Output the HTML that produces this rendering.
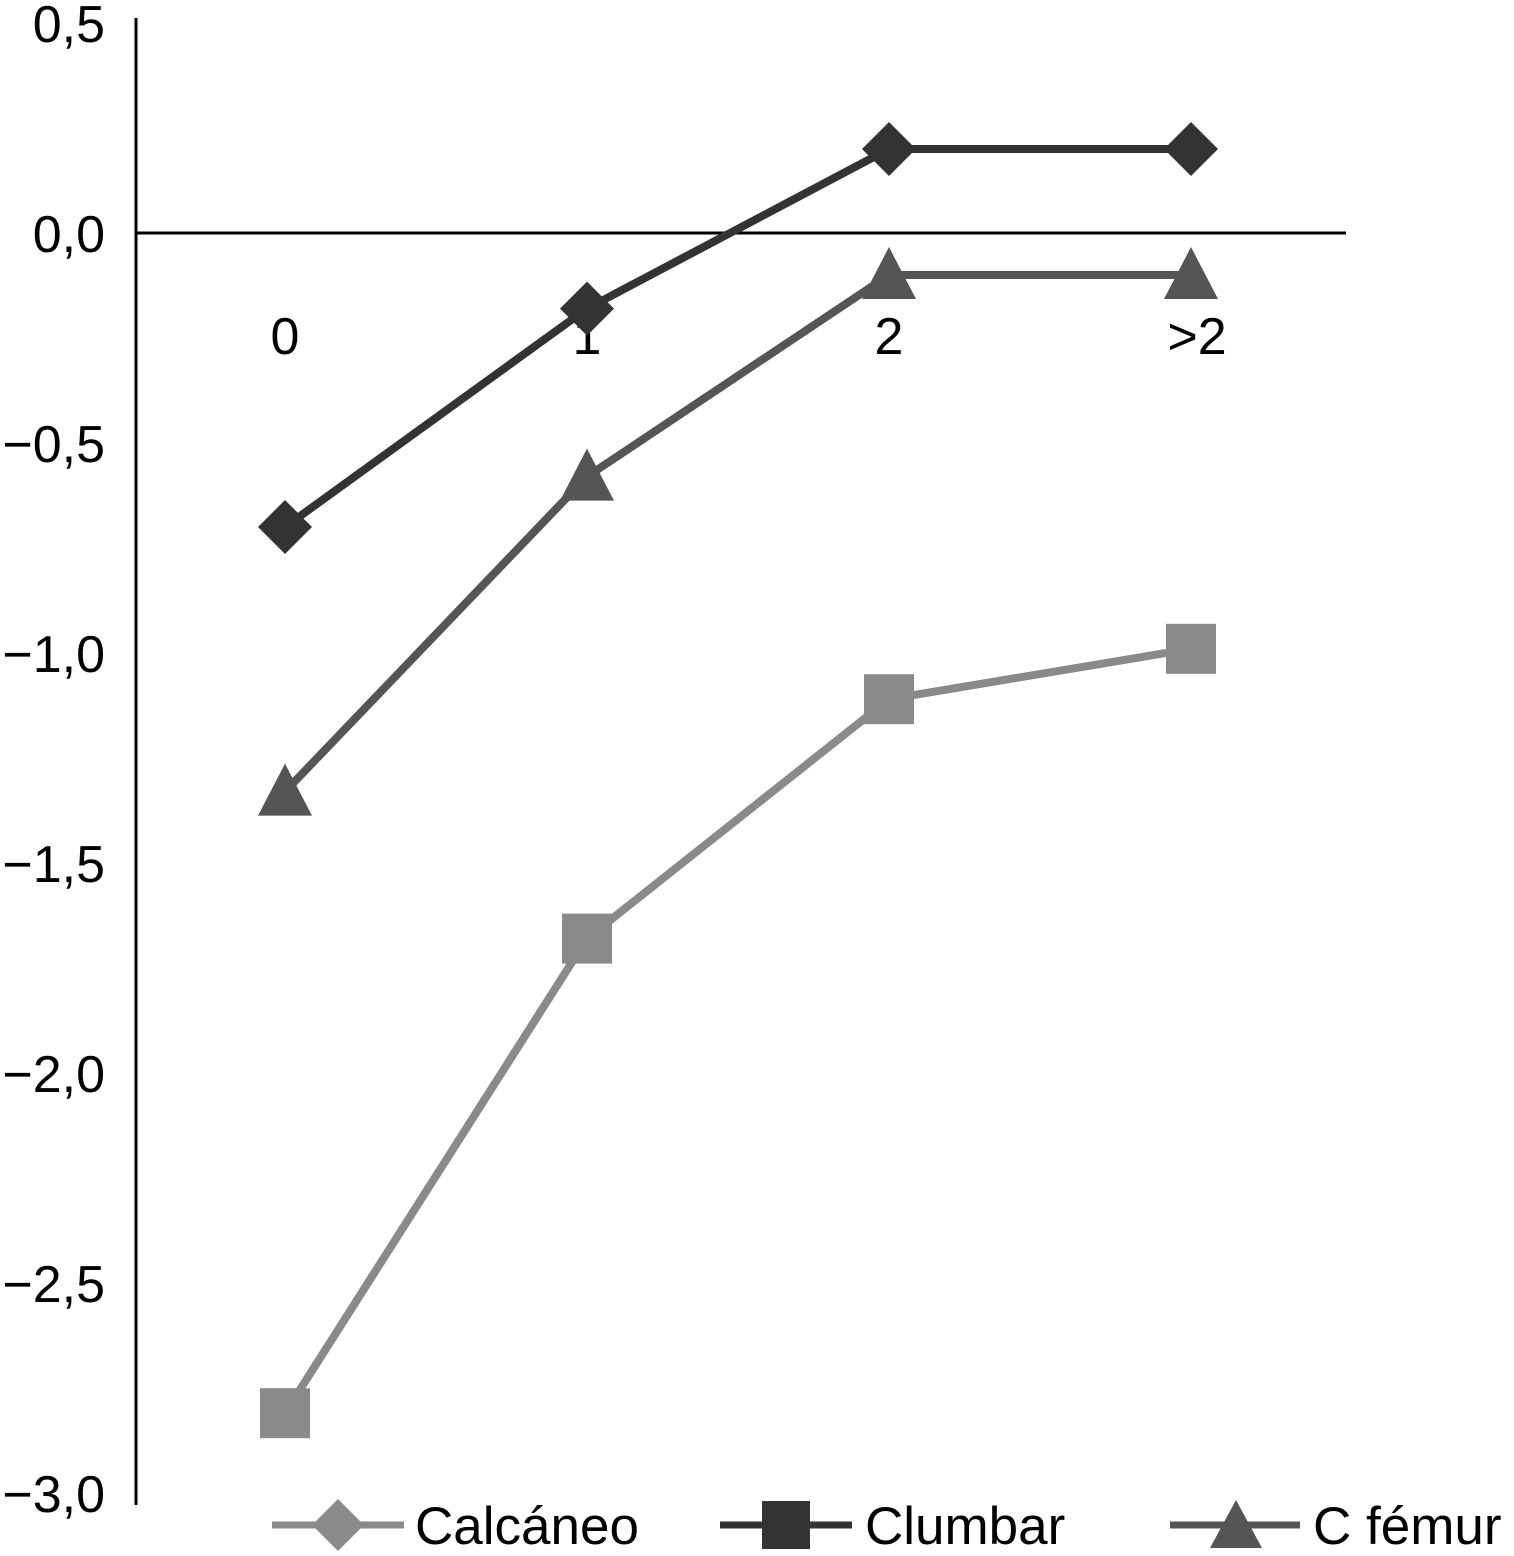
<!DOCTYPE html>
<html><head><meta charset="utf-8"><style>
html,body{margin:0;padding:0;background:#fff;}
svg{display:block;font-family:"Liberation Sans",sans-serif;}
</style></head><body>
<svg id="chart" width="1514" height="1556" viewBox="0 0 1514 1556" xmlns="http://www.w3.org/2000/svg">
<line x1="136" y1="18" x2="136" y2="1505" stroke="#000" stroke-width="3"/>
<line x1="136" y1="233" x2="1346" y2="233" stroke="#000" stroke-width="3"/>
<g id="yticks"></g><g id="xticks"></g><g id="series"></g>
<g>
 <g>
  <line x1="272" y1="1525" x2="404" y2="1525" stroke="#8a8a8a" stroke-width="7"/>
  <polygon points="338,1499 364,1525 338,1551 312,1525" fill="#8a8a8a"/>
  <text x="415" y="1544" font-size="53" fill="#000">Calcáneo</text>
 </g>
 <g>
  <line x1="720" y1="1525" x2="852" y2="1525" stroke="#333" stroke-width="7"/>
  <rect x="762" y="1501" width="48" height="48" fill="#333"/>
  <text x="865" y="1544" font-size="53" fill="#000">Clumbar</text>
 </g>
 <g>
  <line x1="1170" y1="1525" x2="1300" y2="1525" stroke="#555" stroke-width="7"/>
  <polygon points="1236,1500 1262,1548 1210,1548" fill="#555"/>
  <text x="1313" y="1544" font-size="53" fill="#000">C fémur</text>
 </g>
</g>
</svg>
<script>
const categories = ["0","1","2",">2"];
const yTickValues = [0.5,0,-0.5,-1,-1.5,-2,-2.5,-3];
const yTickLabels = ["0,5","0,0","\u22120,5","\u22121,0","\u22121,5","\u22122,0","\u22122,5","\u22123,0"];
const diamondValues = [-0.7,-0.18,0.2,0.2];
const triangleValues = [-1.33,-0.58,-0.1,-0.1];
const squareValues = [-2.81,-1.68,-1.11,-0.99];

const NS="http://www.w3.org/2000/svg";
function y(v){return 233 - v*420;}
function x(i){return 285 + i*302;}
function mk(tag,attrs,parent){const e=document.createElementNS(NS,tag);for(const k in attrs)e.setAttribute(k,attrs[k]);parent.appendChild(e);return e;}
const yt=document.getElementById('yticks');
yTickValues.forEach((v,i)=>{
 const t=mk('text',{x:105,y:y(v)+19,'text-anchor':'end','font-size':'52',fill:'#000'},yt);
 
 
 t.textContent=yTickLabels[i];
});
const xt=document.getElementById('xticks');
categories.forEach((c,i)=>{
 const t=mk('text',{x:x(i)+(i==3?6:0),y:354,'text-anchor':'middle','font-size':'52',fill:'#000'},xt);
 
 
 t.textContent=c;
});
const sg=document.getElementById('series');
function series(vals,color,shape,name){
 const g=mk('g',{},sg);
 
 
 const l=mk('polyline',{points:vals.map((v,i)=>x(i)+','+y(v)).join(' '),fill:'none',stroke:color,'stroke-width':'8'},g);
 
 
 vals.forEach((v,i)=>{
  const cx=x(i),cy=y(v);let m;
  if(shape==='diamond')m=mk('polygon',{points:`${cx},${cy-27} ${cx+27},${cy} ${cx},${cy+27} ${cx-27},${cy}`,fill:color},g);
  else if(shape==='square')m=mk('rect',{x:cx-25,y:cy-25,width:50,height:50,fill:color},g);
  else m=mk('polygon',{points:`${cx},${cy-28} ${cx+27},${cy+24} ${cx-27},${cy+24}`,fill:color},g);
  
  
 });
}
series(squareValues,'#8a8a8a','square','series-square');
series(triangleValues,'#555','triangle','series-triangle');
series(diamondValues,'#333','diamond','series-diamond');
</script>
</body></html>
